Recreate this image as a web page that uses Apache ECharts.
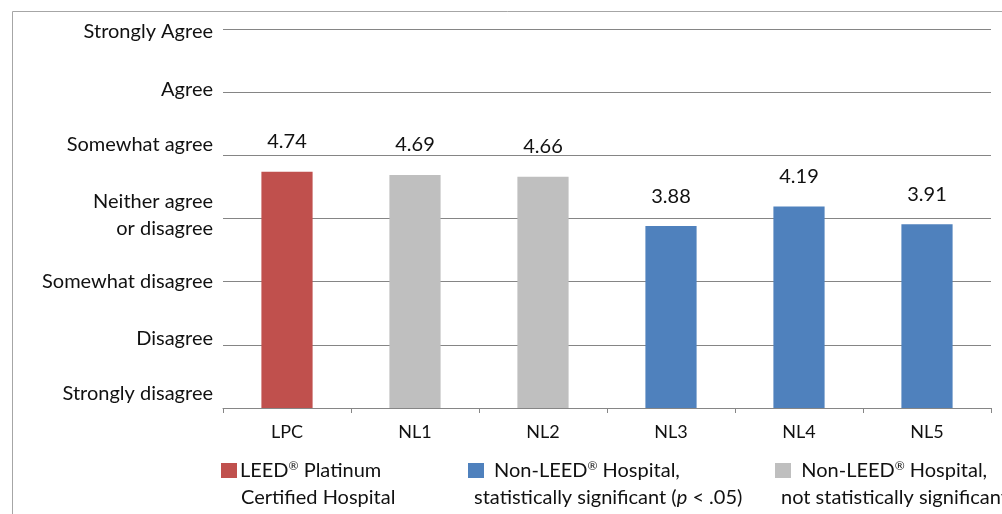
<!DOCTYPE html>
<html>
<head>
<meta charset="utf-8">
<script src="https://cdn.jsdelivr.net/npm/echarts@6/dist/echarts.min.js"></script>
<style>html,body{margin:0;padding:0;background:#fff}#c{width:1002px;height:514px}</style>
</head>
<body>
<div id="c"></div>
<script>
var categories = ['LPC', 'NL1', 'NL2', 'NL3', 'NL4', 'NL5'];
var values = [4.74, 4.69, 4.66, 3.88, 4.19, 3.91];
var groups = ['leed', 'ns', 'ns', 'sig', 'sig', 'sig'];
var yLabels = ['Strongly disagree', 'Disagree', 'Somewhat disagree', 'Neither agree\nor disagree', 'Somewhat agree', 'Agree', 'Strongly Agree'];
var groupKeys = ['leed', 'sig', 'ns'];
var groupNames = ['LEED® Platinum Certified Hospital', 'Non-LEED® Hospital, statistically significant (p < .05)', 'Non-LEED® Hospital, not statistically significant'];
var groupColors = ['#C0504D', '#4F81BD', '#BFBFBF'];

var FONT = 'Lato';
var FS = 20;
var TXT = '#111111';

var series = groupKeys.map(function (k, gi) {
  return {
    name: groupNames[gi],
    type: 'bar',
    stack: 'all',
    barWidth: '40%',
    itemStyle: { color: groupColors[gi] },
    data: values.map(function (v, i) { return groups[i] === k ? v : '-'; }),
    label: {
      show: true, position: 'top', distance: 20,
      fontFamily: FONT, fontSize: FS, color: TXT,
      formatter: function (p) { return Number(p.value).toFixed(2); }
    }
  };
});

var legendRichBase = {
  t: { fontFamily: FONT, fontSize: FS, color: TXT, lineHeight: 27 },
  i: { fontFamily: FONT, fontSize: FS, color: TXT, lineHeight: 27, fontStyle: 'italic' },
  sup: { fontFamily: FONT, fontSize: 12, color: TXT, lineHeight: 27, padding: [0, 0, 9, 0] },
  ind1: { width: 20, height: 10 },
  ind2: { width: 6, height: 10 },
  gap2: { width: 10, height: 10 },
  gap1: { width: 3, height: 10 }
};
function richWith(color) {
  var r = {};
  for (var k in legendRichBase) r[k] = legendRichBase[k];
  r.sq = { width: 16, height: 15, backgroundColor: color };
  return r;
}
var legendTexts = [
  '{sq|}{gap1|}{t|LEED}{sup|®}{t| Platinum}\n{ind1|}{t|Certified Hospital}',
  '{sq|}{gap2|}{t|Non-LEED}{sup|®}{t| Hospital,}\n{ind2|}{t|statistically significant (}{i|p}{t| < .05)}',
  '{sq|}{t|  Non-LEED}{sup|®}{t| Hospital,}\n{ind2|}{t|not statistically significant}'
];
var legendLefts = [216, 463, 770];
var legends = groupNames.map(function (n, gi) {
  return {
    data: [n], left: legendLefts[gi], top: 457, padding: 0,
    itemWidth: 0, itemHeight: 0, selectedMode: false,
    itemStyle: { opacity: 0 },
    formatter: function () { return legendTexts[gi]; },
    textStyle: { fontFamily: FONT, fontSize: FS, color: TXT, lineHeight: 27, rich: richWith(groupColors[gi]) }
  };
});

// vertical nudge of each axis label relative to its gridline (positive = up)
var yShift = { 'Strongly Agree': -3, 'Agree': 3, 'Somewhat agree': 11, 'Disagree': 6, 'Strongly disagree': 14, 'Neither agree\nor disagree': 3 };

var chart = echarts.init(document.getElementById('c'));
chart.setOption({
  animation: false,
  graphic: [{
    type: 'rect', left: 10, top: 9, silent: true,
    shape: { x: 0, y: 0, width: 1010, height: 520 },
    style: { fill: 'none', stroke: '#a6a6a6', lineWidth: 1 }
  }],
  legend: legends,
  grid: { left: 223, right: 11, top: 29, bottom: 106 },
  xAxis: {
    type: 'category', data: categories,
    axisLine: { lineStyle: { color: '#868686' } },
    axisTick: { show: true, length: 5, lineStyle: { color: '#868686' } },
    axisLabel: { fontFamily: FONT, fontSize: 18, color: TXT, margin: 15 }
  },
  yAxis: {
    type: 'value', min: 1, max: 7, interval: 1,
    axisLine: { show: false }, axisTick: { show: false },
    splitLine: { lineStyle: { color: '#858585', width: 1 } },
    axisLabel: {
      margin: 10, fontFamily: FONT, fontSize: FS, color: TXT, lineHeight: 27,
      formatter: function (v) {
        var s = yLabels[Math.round(v) - 1];
        if (s === undefined) return '';
        var sh = yShift[s] || 0;
        var key = sh >= 0 ? 'u' + sh : 'd' + (-sh);
        return s.split('\n').map(function (line) { return '{' + key + '|' + line + '}'; }).join('\n');
      },
      rich: (function () {
        var r = {};
        [0, 3, 6, 11, 14].forEach(function (d) {
          r['u' + d] = { fontFamily: FONT, fontSize: FS, color: TXT, lineHeight: 27, padding: [0, 0, 2 * d, 0], align: 'right' };
          r['d' + d] = { fontFamily: FONT, fontSize: FS, color: TXT, lineHeight: 27, padding: [2 * d, 0, 0, 0], align: 'right' };
        });
        return r;
      })()
    }
  },
  series: series
});
</script>
</body>
</html>
